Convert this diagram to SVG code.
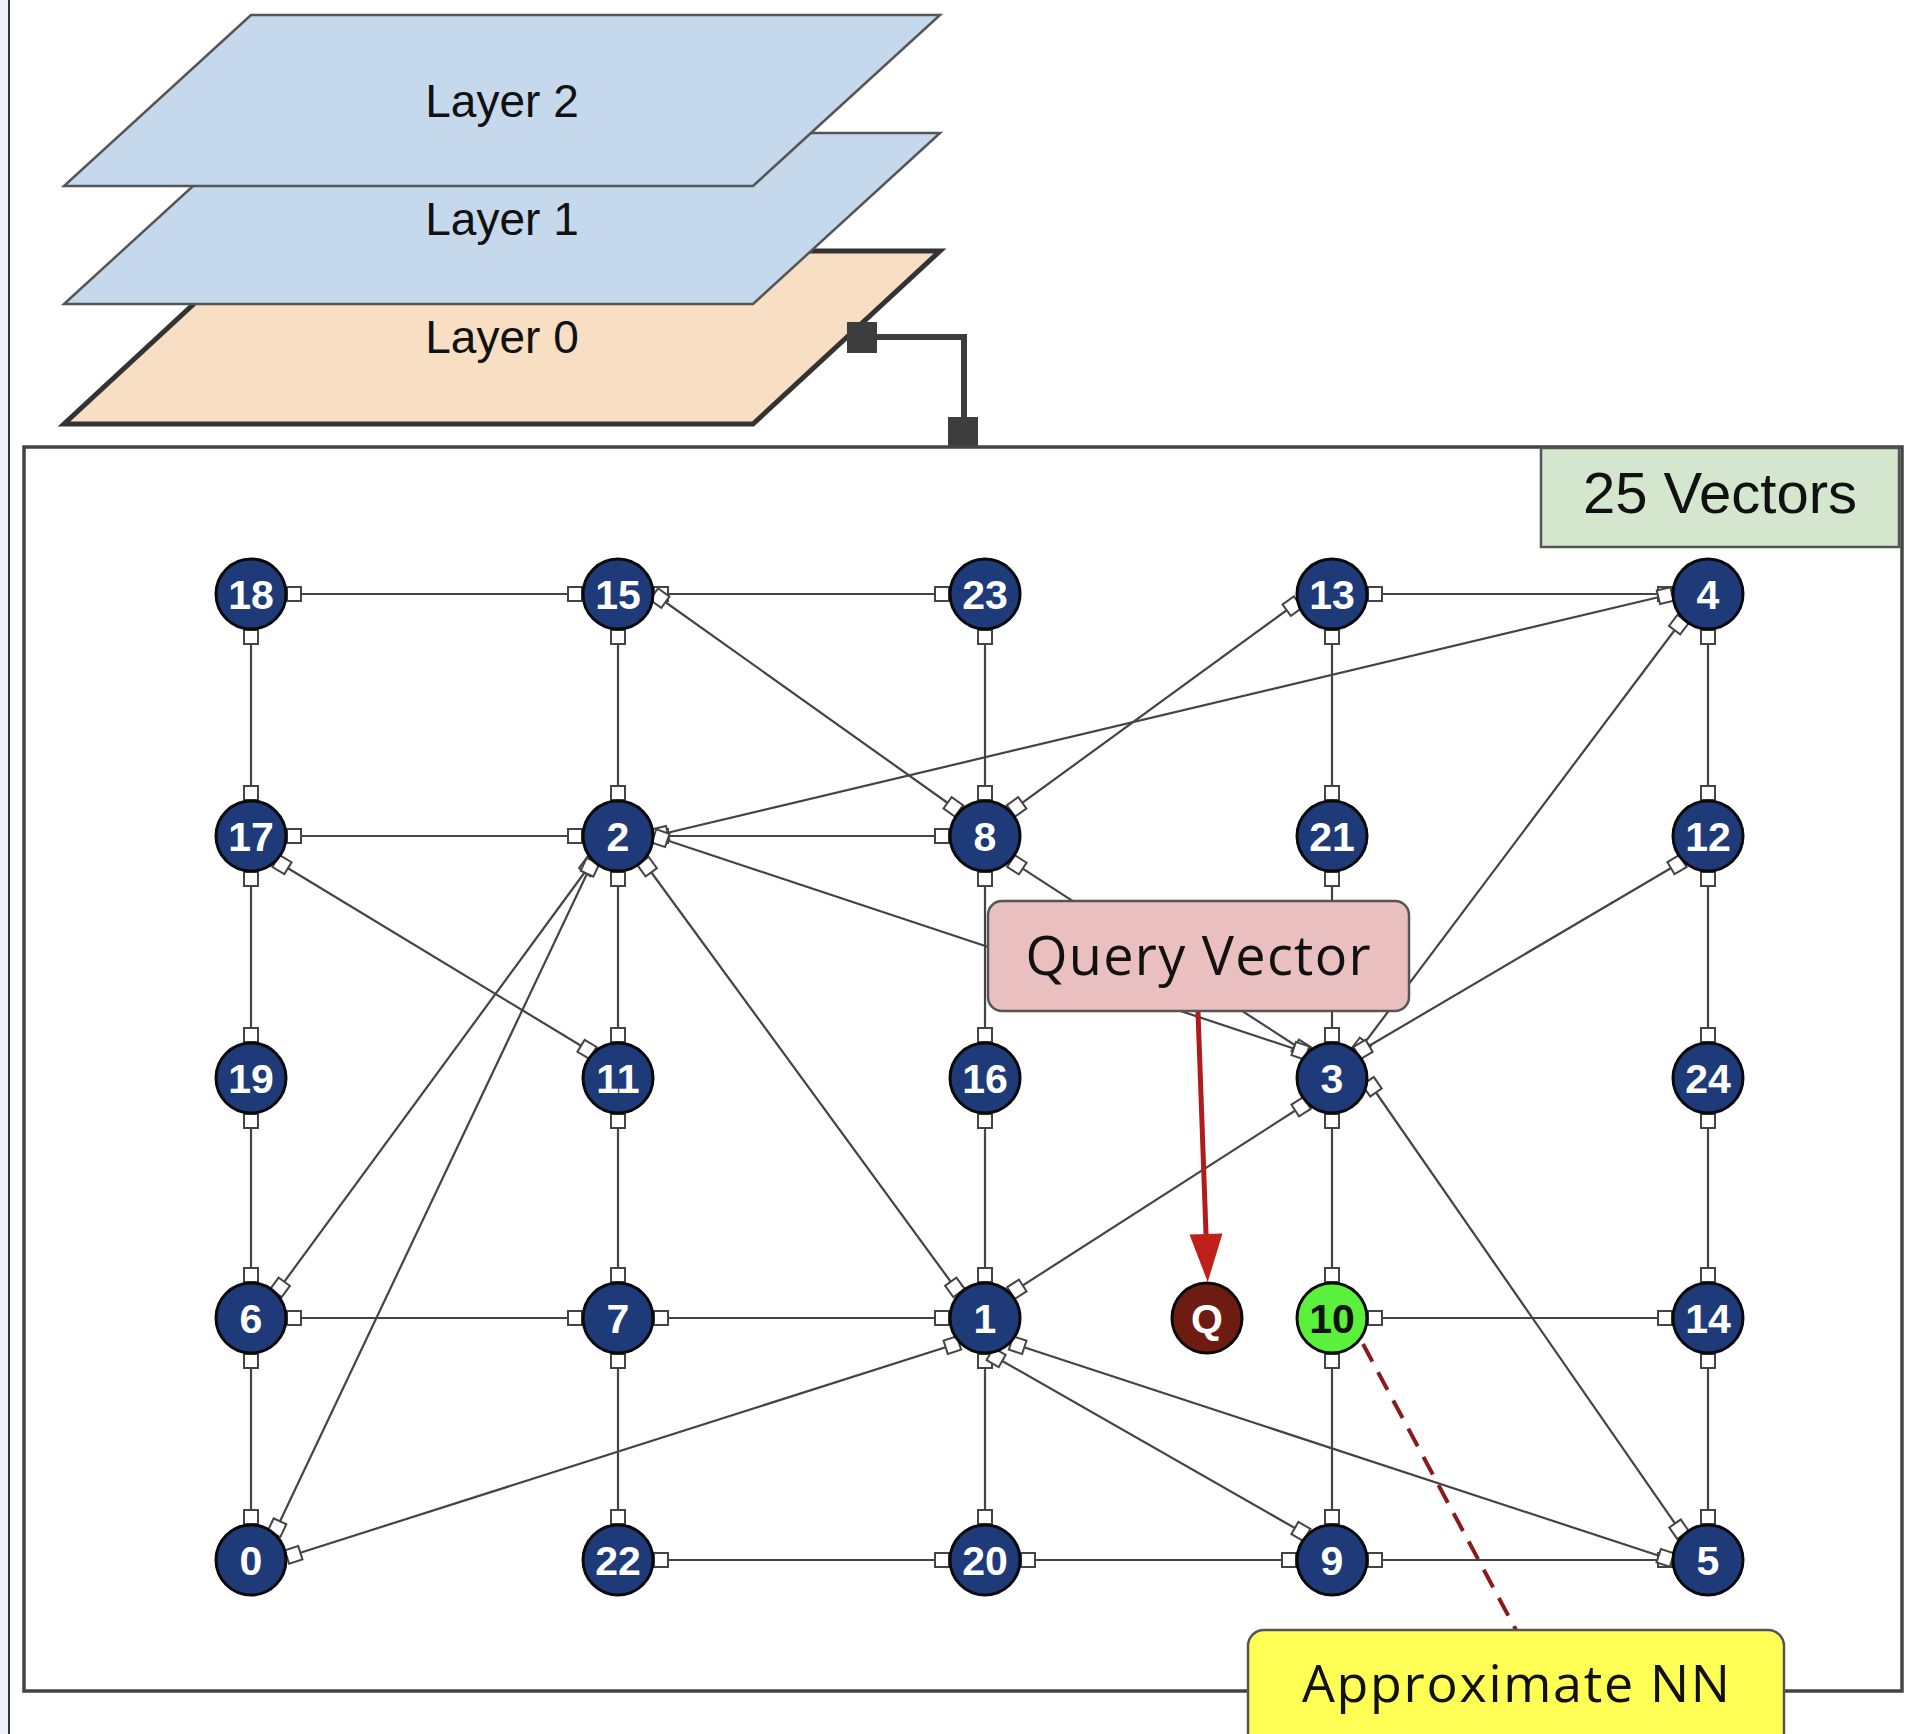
<svg xmlns="http://www.w3.org/2000/svg" width="1912" height="1734" viewBox="0 0 1912 1734">
<style>
.edge{stroke:#444;stroke-width:2.2;fill:none;marker-start:url(#sq);marker-end:url(#sq)}
.node circle{fill:#1e3a78;stroke:#0a0a0a;stroke-width:3}
.node text{font-family:"Liberation Sans",Arial,sans-serif;font-weight:bold;font-size:41px;fill:#fff;text-anchor:middle}
.layer text{font-family:"Liberation Sans",Arial,sans-serif;font-size:46px;fill:#111;text-anchor:middle}
.lbl{font-family:"Open Sans","Noto Sans",sans-serif;fill:#111;text-anchor:middle}
</style>
<defs>
<marker id="sq" markerUnits="userSpaceOnUse" viewBox="-16 -8 17 16" refX="0" refY="0" markerWidth="17" markerHeight="16" orient="auto-start-reverse" overflow="visible">
<rect x="-14" y="-7" width="14" height="14" fill="#fff" stroke="#444" stroke-width="2"/>
</marker>
<marker id="redArrow" markerUnits="userSpaceOnUse" viewBox="0 -17 49 34" refX="0" refY="0" markerWidth="49" markerHeight="34" orient="auto" overflow="visible">
<path d="M0,-16.5 L48,0 L0,16.5 Z" fill="#c0201a"/>
</marker>
</defs>
<rect x="0" y="0" width="1912" height="1734" fill="#fff"/>
<rect x="0" y="0" width="9" height="1734" fill="#eef2f8"/>
<line x1="9" y1="0" x2="9" y2="1734" stroke="#333" stroke-width="2"/>

<g id="layer0" class="layer">
<polygon points="251,251 940,251 753,424 64,424" fill="#f8dec3" stroke="#333" stroke-width="5" stroke-linejoin="miter"/>
<text x="502" y="353">Layer 0</text>
</g>
<g id="layer1" class="layer">
<polygon points="251,133 940,133 753,304 64,304" fill="#c6d9ec" stroke="#555" stroke-width="2.5"/>
<text x="502" y="235">Layer 1</text>
</g>
<g id="layer2" class="layer">
<polygon points="251,15 940,15 753,186 64,186" fill="#c6d9ec" stroke="#555" stroke-width="2.5"/>
<text x="502" y="117">Layer 2</text>
</g>

<g id="layer-link">
<polyline points="877,337 964,337 964,420" fill="none" stroke="#3d3d3d" stroke-width="6"/>
<rect x="847" y="322" width="30" height="31" fill="#3d3d3d"/>
<rect x="948" y="417" width="30" height="30" fill="#3d3d3d"/>
</g>

<g id="vector-space">
<rect x="24" y="447" width="1878" height="1244" fill="none" stroke="#444" stroke-width="3.5"/>
</g>
<g id="count-label">
<rect x="1541" y="448" width="358" height="99" fill="#d5e6cf" stroke="#555" stroke-width="2.5"/>
<text x="1720" y="513" font-family="Liberation Sans, Arial, sans-serif" font-size="58" fill="#111" text-anchor="middle">25 Vectors</text>
</g>

<g id="connectors">
<line class="edge" x1="287" y1="594" x2="582" y2="594"/>
<line class="edge" x1="654" y1="594" x2="949" y2="594"/>
<line class="edge" x1="1368" y1="594" x2="1672" y2="594"/>
<line class="edge" x1="287" y1="836" x2="582" y2="836"/>
<line class="edge" x1="654" y1="836" x2="949" y2="836"/>
<line class="edge" x1="287" y1="1318" x2="582" y2="1318"/>
<line class="edge" x1="654" y1="1318" x2="949" y2="1318"/>
<line class="edge" x1="1368" y1="1318" x2="1672" y2="1318"/>
<line class="edge" x1="654" y1="1560" x2="949" y2="1560"/>
<line class="edge" x1="1021" y1="1560" x2="1296" y2="1560"/>
<line class="edge" x1="1368" y1="1560" x2="1672" y2="1560"/>
<line class="edge" x1="251" y1="630" x2="251" y2="800"/>
<line class="edge" x1="251" y1="872" x2="251" y2="1042"/>
<line class="edge" x1="251" y1="1114" x2="251" y2="1282"/>
<line class="edge" x1="251" y1="1354" x2="251" y2="1524"/>
<line class="edge" x1="618" y1="630" x2="618" y2="800"/>
<line class="edge" x1="618" y1="872" x2="618" y2="1042"/>
<line class="edge" x1="618" y1="1114" x2="618" y2="1282"/>
<line class="edge" x1="618" y1="1354" x2="618" y2="1524"/>
<line class="edge" x1="985" y1="630" x2="985" y2="800"/>
<line class="edge" x1="985" y1="872" x2="985" y2="1042"/>
<line class="edge" x1="985" y1="1114" x2="985" y2="1282"/>
<line class="edge" x1="985" y1="1354" x2="985" y2="1524"/>
<line class="edge" x1="1332" y1="630" x2="1332" y2="800"/>
<line class="edge" x1="1332" y1="872" x2="1332" y2="1042"/>
<line class="edge" x1="1332" y1="1114" x2="1332" y2="1282"/>
<line class="edge" x1="1332" y1="1354" x2="1332" y2="1524"/>
<line class="edge" x1="1708" y1="630" x2="1708" y2="800"/>
<line class="edge" x1="1708" y1="872" x2="1708" y2="1042"/>
<line class="edge" x1="1708" y1="1114" x2="1708" y2="1282"/>
<line class="edge" x1="1708" y1="1354" x2="1708" y2="1524"/>
<line class="edge" x1="654" y1="594" x2="959" y2="811"/>
<line class="edge" x1="1011" y1="811" x2="1298" y2="602"/>
<line class="edge" x1="1672" y1="594" x2="654" y2="836"/>
<line class="edge" x1="1683" y1="619" x2="1357" y2="1053"/>
<line class="edge" x1="1683" y1="861" x2="1357" y2="1053"/>
<line class="edge" x1="1011" y1="861" x2="1307" y2="1053"/>
<line class="edge" x1="654" y1="836" x2="1307" y2="1053"/>
<line class="edge" x1="1368" y1="1081" x2="1683" y2="1535"/>
<line class="edge" x1="1307" y1="1103" x2="1011" y2="1293"/>
<line class="edge" x1="643" y1="861" x2="959" y2="1293"/>
<line class="edge" x1="593" y1="861" x2="276" y2="1293"/>
<line class="edge" x1="593" y1="861" x2="274" y2="1534"/>
<line class="edge" x1="276" y1="861" x2="593" y2="1053"/>
<line class="edge" x1="287" y1="1557" x2="959" y2="1343"/>
<line class="edge" x1="990" y1="1354" x2="1307" y2="1535"/>
<line class="edge" x1="1011" y1="1343" x2="1672" y2="1560"/>
<line x1="1198" y1="1012" x2="1206" y2="1234" stroke="#b01c1c" stroke-width="5" marker-end="url(#redArrow)"/>
<line x1="1363" y1="1344" x2="1516" y2="1630" stroke="#8b1a1a" stroke-width="4" stroke-dasharray="20,12"/>
</g>

<g id="n18" class="node"><circle cx="251" cy="594" r="35"/><text x="251" y="609">18</text></g>
<g id="n15" class="node"><circle cx="618" cy="594" r="35"/><text x="618" y="609">15</text></g>
<g id="n23" class="node"><circle cx="985" cy="594" r="35"/><text x="985" y="609">23</text></g>
<g id="n13" class="node"><circle cx="1332" cy="594" r="35"/><text x="1332" y="609">13</text></g>
<g id="n4" class="node"><circle cx="1708" cy="594" r="35"/><text x="1708" y="609">4</text></g>
<g id="n17" class="node"><circle cx="251" cy="836" r="35"/><text x="251" y="851">17</text></g>
<g id="n2" class="node"><circle cx="618" cy="836" r="35"/><text x="618" y="851">2</text></g>
<g id="n8" class="node"><circle cx="985" cy="836" r="35"/><text x="985" y="851">8</text></g>
<g id="n21" class="node"><circle cx="1332" cy="836" r="35"/><text x="1332" y="851">21</text></g>
<g id="n12" class="node"><circle cx="1708" cy="836" r="35"/><text x="1708" y="851">12</text></g>
<g id="n19" class="node"><circle cx="251" cy="1078" r="35"/><text x="251" y="1093">19</text></g>
<g id="n11" class="node"><circle cx="618" cy="1078" r="35"/><text x="618" y="1093">11</text></g>
<g id="n16" class="node"><circle cx="985" cy="1078" r="35"/><text x="985" y="1093">16</text></g>
<g id="n3" class="node"><circle cx="1332" cy="1078" r="35"/><text x="1332" y="1093">3</text></g>
<g id="n24" class="node"><circle cx="1708" cy="1078" r="35"/><text x="1708" y="1093">24</text></g>
<g id="n6" class="node"><circle cx="251" cy="1318" r="35"/><text x="251" y="1333">6</text></g>
<g id="n7" class="node"><circle cx="618" cy="1318" r="35"/><text x="618" y="1333">7</text></g>
<g id="n1" class="node"><circle cx="985" cy="1318" r="35"/><text x="985" y="1333">1</text></g>
<g id="nQ" class="node"><circle cx="1207" cy="1318" r="35" style="fill:#6e1c12"/><text x="1207" y="1333">Q</text></g>
<g id="n10" class="node"><circle cx="1332" cy="1318" r="35" style="fill:#5af03c"/><text x="1332" y="1333" style="fill:#111">10</text></g>
<g id="n14" class="node"><circle cx="1708" cy="1318" r="35"/><text x="1708" y="1333">14</text></g>
<g id="n0" class="node"><circle cx="251" cy="1560" r="35"/><text x="251" y="1575">0</text></g>
<g id="n22" class="node"><circle cx="618" cy="1560" r="35"/><text x="618" y="1575">22</text></g>
<g id="n20" class="node"><circle cx="985" cy="1560" r="35"/><text x="985" y="1575">20</text></g>
<g id="n9" class="node"><circle cx="1332" cy="1560" r="35"/><text x="1332" y="1575">9</text></g>
<g id="n5" class="node"><circle cx="1708" cy="1560" r="35"/><text x="1708" y="1575">5</text></g>

<g id="query-vector">
<rect x="988" y="901" width="421" height="110" rx="14" fill="#eabfbf" stroke="#555" stroke-width="2.5"/>
<text class="lbl" x="1198" y="975" font-size="54" textLength="345">Query Vector</text>
</g>
<g id="approx-nn">
<rect x="1248" y="1630" width="536" height="120" rx="16" fill="#ffff55" stroke="#555" stroke-width="2.5"/>
<text class="lbl" x="1516" y="1702" font-size="52" textLength="428">Approximate NN</text>
</g>
</svg>
